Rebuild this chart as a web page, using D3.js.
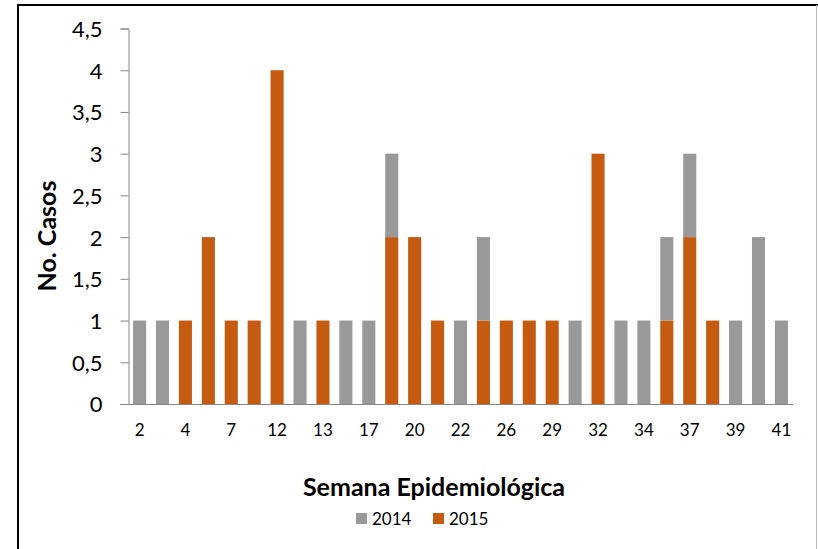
<html>
<script src="https://cdnjs.cloudflare.com/ajax/libs/d3/7.8.5/d3.min.js"></script>
<style>
  body { margin:0; background:#fff; }
  svg { display:block; }
  text { font-family: Lato, "Open Sans", sans-serif; fill:#000; }
</style>
<body>
<div id="chart"></div>
<script>
// semana epidemiologica (only every other one is printed on the axis)
var weeks = ["2","3","4","6","7","9","12","12b","13","15","17","19","20","21","22","24","26","27","29","30","32","33","34","35","37","38","39","40","41"];
var casos2015 = [0,0,1,2,1,1,4,0,1,0,0,2,2,1,0,1,1,1,1,0,3,0,0,1,2,1,0,0,0];
var casos2014 = [1,1,0,0,0,0,0,1,0,1,1,1,0,0,1,1,0,0,0,1,0,1,1,1,1,0,1,2,1];
var years = ["2014","2015"];
var colors = {"2014":"#999999","2015":"#c55a11"};
var yTicks = [0,0.5,1,1.5,2,2.5,3,3.5,4,4.5];

var W = 818, H = 549;
var svg = d3.select("#chart").append("svg").attr("width", W).attr("height", H);

// frame
svg.append("line").attr("x1",18).attr("x2",818).attr("y1",5).attr("y2",5).attr("stroke","#000").attr("stroke-width",2);
svg.append("line").attr("x1",18).attr("x2",18).attr("y1",4).attr("y2",H).attr("stroke","#000").attr("stroke-width",2);
svg.append("line").attr("x1",816.5).attr("x2",816.5).attr("y1",5).attr("y2",H).attr("stroke","#bbb").attr("stroke-width",1);

var x = d3.scaleBand().domain(d3.range(weeks.length)).range([128,793]).paddingInner(0.43).paddingOuter(0.22);
var y = d3.scaleLinear().domain([0,4.5]).range([404,28.5]);

var rows = weeks.map(function(w,i){ return {w:w, "2015":casos2015[i], "2014":casos2014[i]}; });
// 2015 at the bottom, 2014 stacked above
var stack = d3.stack().keys(["2015","2014"])(rows);

svg.selectAll(".serie").data(stack).enter().append("g")
  .attr("fill", function(d){ return colors[d.key]; })
  .selectAll("rect").data(function(d){ return d; }).enter().append("rect")
  .attr("x", function(d,i){ return x(i); })
  .attr("width", x.bandwidth())
  .attr("y", function(d){ return y(d[1]); })
  .attr("height", function(d){ return y(d[0]) - y(d[1]); });

// y axis
var yAxis = svg.append("g").attr("transform","translate(128.5,0)")
  .call(d3.axisLeft(y).tickValues(yTicks).tickSize(8).tickPadding(18)
    .tickFormat(function(d){ return String(d).replace(".", ","); }));
yAxis.select(".domain").attr("stroke","#868686");
yAxis.selectAll(".tick line").attr("stroke","#868686");
yAxis.selectAll("text").style("font-size","22px").attr("dy","0.36em");

// x axis
var xAxis = svg.append("g").attr("transform","translate(0,404.5)")
  .call(d3.axisBottom(x).tickSize(0).tickPadding(19)
    .tickFormat(function(d,i){ return i % 2 === 0 ? weeks[i] : ""; }));
xAxis.select(".domain").attr("stroke","#868686").attr("d","M128,0H793");
xAxis.selectAll("text").style("font-size","17px");

// titles
svg.append("text").attr("x",434).attr("y",496).attr("text-anchor","middle")
  .style("font-size","25px").style("font-weight","bold").text("Semana Epidemiológica");
svg.append("text").attr("transform","translate(56,236) rotate(-90)").attr("text-anchor","middle")
  .style("font-size","25px").style("font-weight","bold").text("No. Casos");

// legend
var leg = svg.append("g").selectAll("g").data(years).enter().append("g")
  .attr("transform", function(d,i){ return "translate(" + (356 + i*77) + ",513)"; });
leg.append("rect").attr("width",11).attr("height",11).attr("fill", function(d){ return colors[d]; });
leg.append("text").attr("x",16).attr("y",11.5).style("font-size","17px").text(function(d){ return d; });
</script>
</body>
</html>
